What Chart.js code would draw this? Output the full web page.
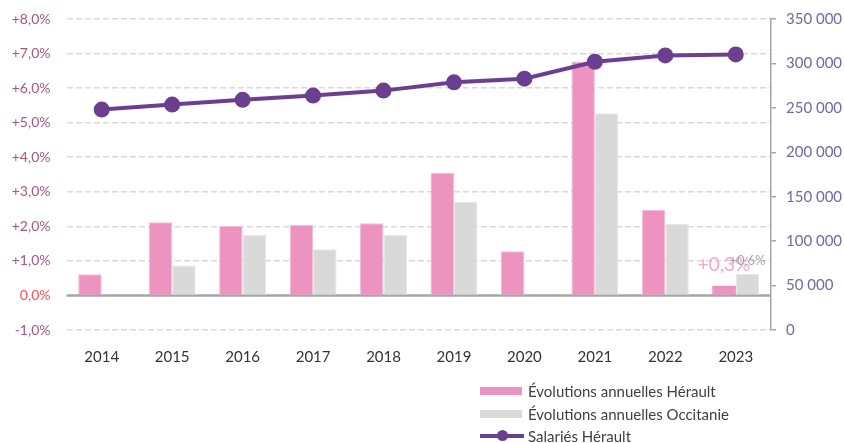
<!DOCTYPE html>
<html>
<head>
<meta charset="utf-8">
<script src="https://cdn.jsdelivr.net/npm/chart.js@4"></script>
<style>
  html, body { margin: 0; padding: 0; background: #fff; }
  #wrap { position: relative; width: 844px; height: 443px; }
  #legend { position: absolute; left: 480px; top: 380px; font-family: Lato, sans-serif; font-size: 15px; color: #404040; }
  #legend div { height: 22.5px; display: flex; align-items: center; }
  #legend .sw { display: inline-block; width: 42px; height: 8px; margin-right: 6px; position: relative; }
  #legend .ln { display: inline-block; width: 44px; height: 4px; margin-right: 4px; background: #6b3f8f; position: relative; }
  #legend .ln::after { content: ''; position: absolute; left: 17px; top: -4px; width: 11px; height: 11px; border-radius: 50%; background: #6b3f8f; }
</style>
</head>
<body>
<div id="wrap">
  <canvas id="myChart" width="844" height="443"></canvas>
  <div id="legend">
    <div><span class="sw" style="background:#ec93c0"></span>Évolutions annuelles Hérault</div>
    <div><span class="sw" style="background:#d9d9d9"></span>Évolutions annuelles Occitanie</div>
    <div><span class="ln"></span>Salariés Hérault</div>
  </div>
</div>
<script>
var years = ['2014','2015','2016','2017','2018','2019','2020','2021','2022','2023'];
var heraultPct = [0.61, 2.12, 2.01, 2.04, 2.09, 3.55, 1.28, 6.77, 2.47, 0.28];
var occitaniePct = [null, 0.87, 1.76, 1.34, 1.76, 2.71, null, 5.27, 2.07, 0.63];
var salariesHerault = [248100, 253700, 259000, 263800, 269400, 278700, 282800, 301900, 309000, 310100];
var labeledIndex = 9; // only the last year gets value labels

function fmtPct(v) {
    if (v === 0) return '0,0%';
    return (v > 0 ? '+' : '') + v.toFixed(1).replace('.', ',') + '%';
}

function fmtThousands(v) {
    return String(v).replace(/\B(?=(\d{3})+(?!\d))/g, ' ');
}

// solid grey zero line, drawn under the bars
var zeroLine = {
    id: 'zeroLine',
    beforeDatasetsDraw: function (chart) {
        var c = chart.ctx, a = chart.chartArea;
        var y = chart.scales.y.getPixelForValue(0);
        c.save();
        c.strokeStyle = '#a6a6a6';
        c.lineWidth = 2.5;
        c.beginPath();
        c.moveTo(a.left, y);
        c.lineTo(a.right, y);
        c.stroke();
        c.restore();
    }
};

var valueLabels = {
    id: 'valueLabels',
    afterDatasetsDraw: function (chart) {
        var c = chart.ctx;
        var styles = [
            { ds: 0, color: '#f3a9cd', font: '19px Lato, sans-serif', off: 21 },
            { ds: 1, color: '#a6a6a6', font: '13px Lato, sans-serif', off: 13 }
        ];
        c.save();
        c.textAlign = 'center';
        c.textBaseline = 'middle';
        styles.forEach(function (s) {
            var bar = chart.getDatasetMeta(s.ds).data[labeledIndex];
            var v = chart.data.datasets[s.ds].data[labeledIndex];
            if (!bar || v == null) return;
            c.fillStyle = s.color;
            c.font = s.font;
            c.fillText(fmtPct(v), bar.x, bar.y - s.off);
        });
        c.restore();
    }
};

var ctx = document.getElementById('myChart').getContext('2d');
var myChart = new Chart(ctx, {
    type: 'bar',
    data: {
        labels: years,
        datasets: [{
            label: 'Évolutions annuelles Hérault',
            data: heraultPct,
            backgroundColor: '#ec93c0',
            borderColor: function (c) { return c.dataIndex === labeledIndex ? '#e0609f' : '#f4bcd8'; },
            borderWidth: 1,
            yAxisID: 'y',
            order: 1
        }, {
            label: 'Évolutions annuelles Occitanie',
            data: occitaniePct,
            backgroundColor: '#d9d9d9',
            borderColor: '#e6e6e6',
            borderWidth: 1,
            yAxisID: 'y',
            order: 2
        }, {
            type: 'line',
            label: 'Salariés Hérault',
            data: salariesHerault,
            borderColor: '#6b3f8f',
            backgroundColor: '#6b3f8f',
            borderWidth: 4,
            pointRadius: 6,
            pointHoverRadius: 6,
            tension: 0,
            yAxisID: 'y1',
            order: 0
        }]
    },
    options: {
        responsive: false,
        animation: false,
        layout: { padding: { top: 19, left: 0, right: 0, bottom: 0 } },
        datasets: { bar: { barPercentage: 1, categoryPercentage: 0.667 } },
        plugins: {
            legend: { display: false },
            tooltip: { enabled: false }
        },
        scales: {
            x: {
                grid: { display: false },
                border: { display: false },
                ticks: { color: '#333333', font: { family: 'Lato', size: 15 }, padding: 10 },
                afterFit: function (s) { s.height = 113; s.paddingLeft = 0; s.paddingRight = 0; }
            },
            y: {
                position: 'left',
                min: -1,
                max: 8,
                ticks: {
                    stepSize: 1,
                    padding: 16,
                    color: function (c) { return c.tick.value === 0 ? '#ff4f4f' : '#a8577f'; },
                    font: { family: 'Lato', size: 14 },
                    callback: function (v) { return fmtPct(v); }
                },
                grid: {
                    color: function (c) { return c.tick.value === 0 ? 'rgba(0,0,0,0)' : '#d9d9d9'; },
                    lineWidth: 1.5,
                    drawTicks: false,
                    borderDash: [6, 3]
                },
                border: { display: true, width: 0, color: 'rgba(0,0,0,0)', dash: [6, 3] },
                afterFit: function (s) { s.width = 66.5; s.paddingTop = 0; s.paddingBottom = 0; }
            },
            y1: {
                position: 'right',
                min: 0,
                max: 350000,
                ticks: {
                    stepSize: 50000,
                    padding: 10,
                    color: '#6f6aa0',
                    font: { family: 'Lato', size: 15 },
                    callback: function (v) { return fmtThousands(v); }
                },
                grid: { drawOnChartArea: false, drawTicks: true, tickLength: 5, color: '#a6a6a6', lineWidth: 1.5 },
                border: { display: true, color: '#a6a6a6', width: 1.5 },
                afterFit: function (s) { s.width = 73; s.paddingTop = 0; s.paddingBottom = 0; }
            }
        }
    },
    plugins: [zeroLine, valueLabels]
});
</script>
</body>
</html>
